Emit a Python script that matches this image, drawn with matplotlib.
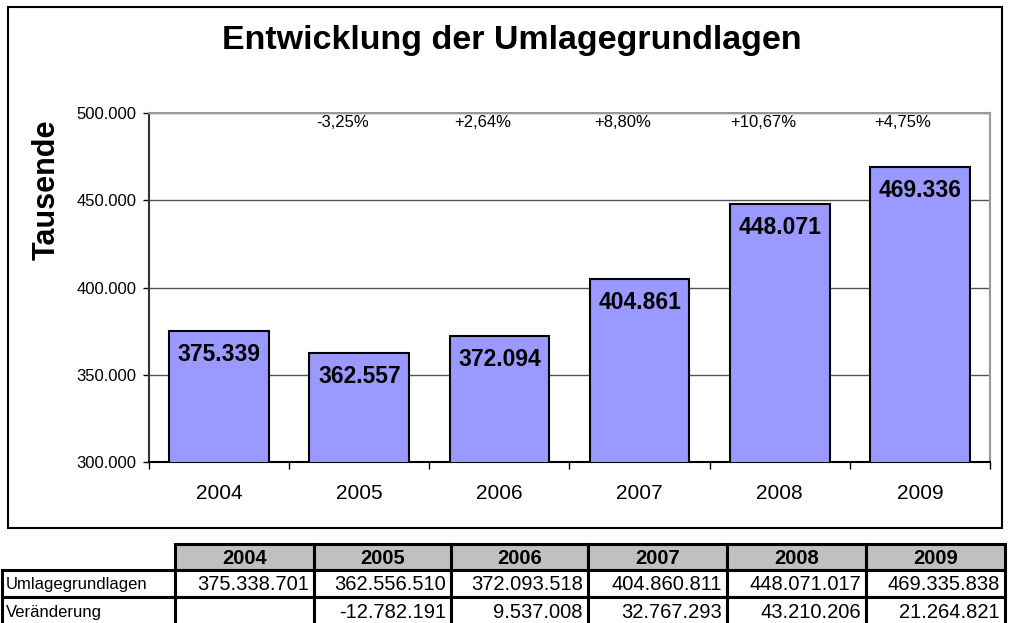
import numpy as np
import matplotlib
matplotlib.use("Agg")
import matplotlib.pyplot as plt
from matplotlib.patches import Rectangle

plt.rcParams["font.family"] = ["Liberation Sans", "DejaVu Sans"]

years = ["2004", "2005", "2006", "2007", "2008", "2009"]
umlage = [375338701, 362556510, 372093518, 404860811, 448071017, 469335838]
veraenderung = [None, -12782191, 9537008, 32767293, 43210206, 21264821]
pct_labels = ["-3,25%", "+2,64%", "+8,80%", "+10,67%", "+4,75%"]
row_labels = ["Umlagegrundlagen", "Veränderung"]


def de_num(v):
    return f"{int(round(v)):,}".replace(",", ".")


W, H = 1009, 623
fig = plt.figure(figsize=(W / 100, H / 100), dpi=100)

# chart area
ax = fig.add_axes([149 / W, 1 - 462 / H, (990 - 149) / W, (462 - 113) / H])
x = np.arange(len(years))
tausend = np.array(umlage) / 1000.0
ax.bar(x, tausend, width=0.71, color="#9999FF", edgecolor="black", linewidth=1.5, zorder=3)
ax.set_xlim(-0.5, len(years) - 0.5)
ax.set_ylim(300000, 500000)
ax.set_yticks(np.arange(300000, 500001, 50000))
ax.set_yticklabels([de_num(v) for v in np.arange(300000, 500001, 50000)], fontsize=12)
ax.yaxis.grid(True, color="#555555", linewidth=1.0, zorder=0)
ax.tick_params(axis="y", length=4, width=1, pad=5)

ax.set_xticks(np.arange(-0.5, len(years), 1.0))
ax.set_xticklabels([])
ax.set_xticks(x, minor=True)
ax.set_xticklabels(years, minor=True, fontsize=15)
ax.tick_params(axis="x", which="major", length=5, width=1)
ax.tick_params(axis="x", which="minor", length=0, pad=16)

for s in ["top", "right"]:
    ax.spines[s].set_color("#999999")
    ax.spines[s].set_linewidth(1.5)
ax.spines["left"].set_color("#333333")
ax.spines["left"].set_linewidth(1.5)
ax.spines["bottom"].set_linewidth(1.5)

for i, v in enumerate(tausend):
    ax.annotate(de_num(v), (i, v), xytext=(0, -17), textcoords="offset points",
                ha="center", va="center", fontsize=16.5, fontweight="bold", zorder=4)

for i, t in enumerate(pct_labels):
    ax.text(i + 1 - 0.12, 494300, t, ha="center", va="center", fontsize=12)

fig.text(512 / W, 1 - 40 / H, "Entwicklung der Umlagegrundlagen", ha="center", va="center",
         fontsize=24.5, fontweight="bold")
fig.text(47 / W, 1 - 190 / H, "Tausende", ha="center", va="center", rotation=90,
         fontsize=22, fontweight="bold")

# box around the chart
ov = fig.add_axes([0, 0, 1, 1], zorder=-1)
ov.set_xlim(0, W)
ov.set_ylim(H, 0)
ov.axis("off")
ov.add_patch(Rectangle((8, 7), 994, 521, fill=False, edgecolor="black", linewidth=1.5))

# table below the chart
ov2 = fig.add_axes([0, 0, 1, 1])
ov2.set_xlim(0, W)
ov2.set_ylim(H, 0)
ov2.axis("off")
ov2.patch.set_alpha(0)

col_edges = [2, 175, 314, 451, 588, 727, 866, 1005]
row_edges = [544, 570, 597, 626]
lw = 2.2

for j, yr in enumerate(years):
    x0, x1 = col_edges[j + 1], col_edges[j + 2]
    ov2.add_patch(Rectangle((x0, row_edges[0]), x1 - x0, row_edges[1] - row_edges[0],
                            facecolor="#C0C0C0", edgecolor="black", linewidth=lw))
    ov2.text((x0 + x1) / 2, (row_edges[0] + row_edges[1]) / 2 + 1, yr, ha="center", va="center",
             fontsize=14.5, fontweight="bold")

rows = [umlage, veraenderung]
for r, vals in enumerate(rows):
    y0, y1 = row_edges[r + 1], row_edges[r + 2]
    ov2.add_patch(Rectangle((col_edges[0], y0), col_edges[1] - col_edges[0], y1 - y0,
                            facecolor="white", edgecolor="black", linewidth=lw))
    ov2.text(col_edges[0] + 4, (y0 + y1) / 2 + 1, row_labels[r], ha="left", va="center", fontsize=12)
    for j, v in enumerate(vals):
        x0, x1 = col_edges[j + 1], col_edges[j + 2]
        ov2.add_patch(Rectangle((x0, y0), x1 - x0, y1 - y0,
                                facecolor="white", edgecolor="black", linewidth=lw))
        if v is not None:
            ov2.text(x1 - 5, (y0 + y1) / 2 + 1, de_num(v), ha="right", va="center", fontsize=14.5)

fig.savefig("out.png", dpi=100)
